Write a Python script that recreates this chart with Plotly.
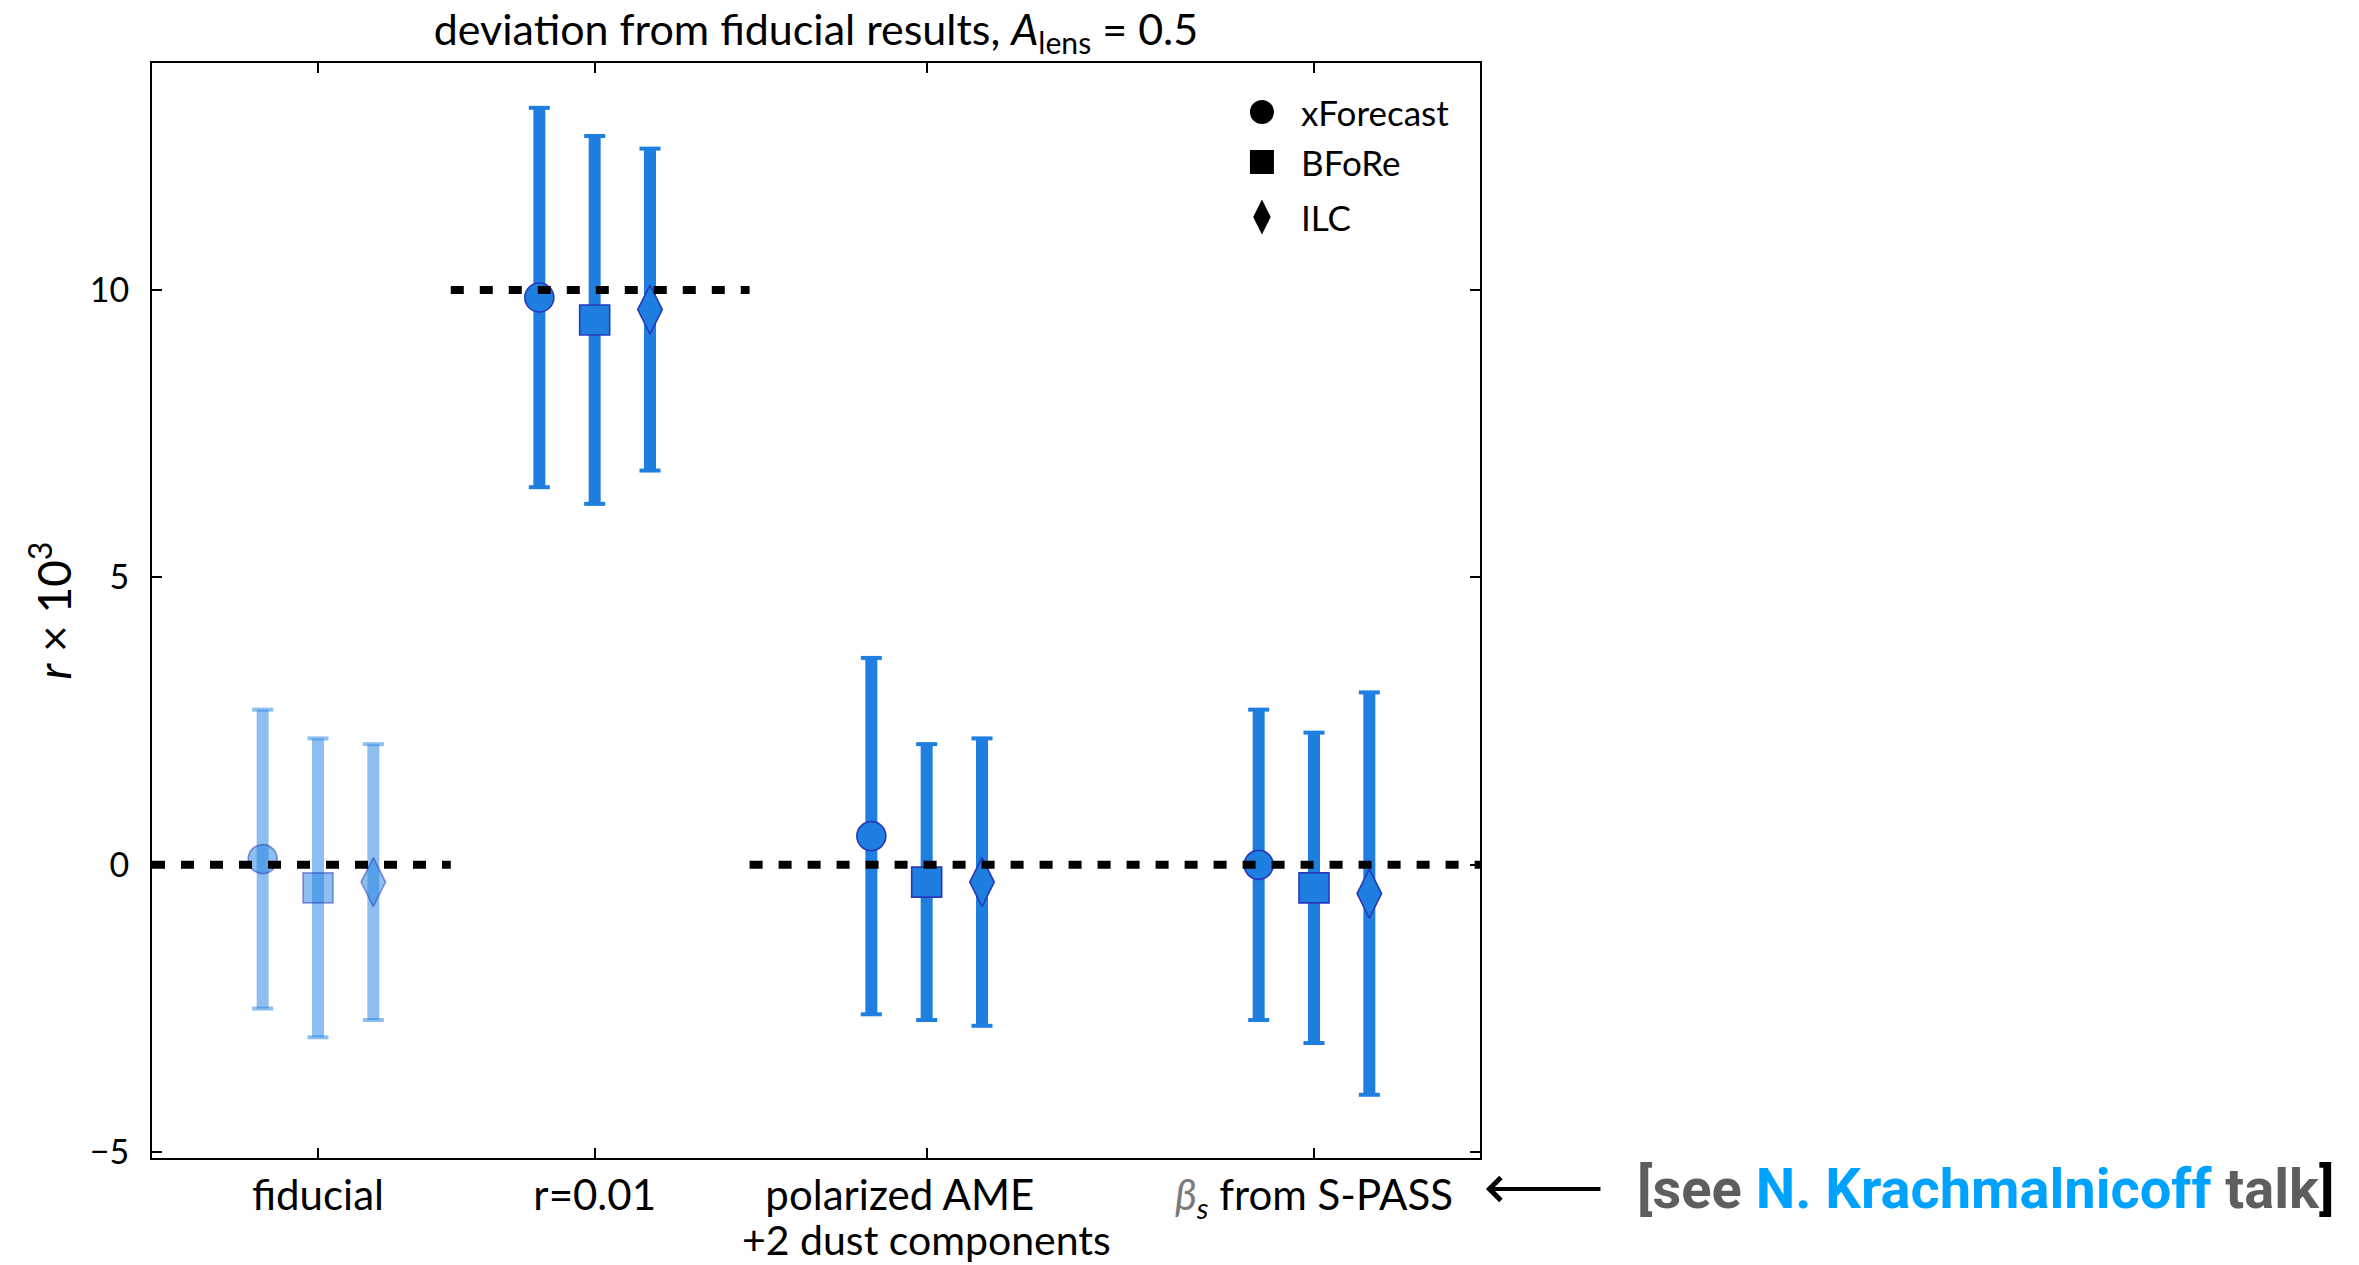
import plotly.graph_objects as go

# Scenario labels along the x axis (first line as tick label, optional second line below)
scenarios = [
    "fiducial",
    "r=0.01",
    "polarized AME\u00a0\u00a0\u00a0\u00a0\u00a0",
    "<span style='color:#7a7a7a'><i>β</i></span><sub><i>s</i></sub> from S-PASS",
]
scenario_sub = ["", "", "+2 dust components", ""]
scenario_pos = [1.5, 4.0, 7.0, 10.5]
scenario_alpha = [0.5, 1.0, 1.0, 1.0]

# Input r (x10^3) for each scenario and the x extent of each reference segment
r_input = [0, 10, 0, 0]
segment_edges = [0.0, 2.7, 5.4, 8.75, 12.0]

# Component-separation methods
methods = ["xForecast", "BFoRe", "ILC"]
method_offset = [-0.5, 0.0, 0.5]
method_symbol = ["circle", "square", "diamond-tall"]
method_size = [29, 30, 35]

# Recovered r x 10^3 and 1-sigma errors per method, per scenario
r_xforecast = [0.10, 9.87, 0.50, 0.00]
sig_xforecast = [2.6, 3.3, 3.1, 2.7]
r_bfore = [-0.40, 9.48, -0.30, -0.40]
sig_bfore = [2.6, 3.2, 2.4, 2.7]
r_ilc = [-0.30, 9.66, -0.30, -0.50]
sig_ilc = [2.4, 2.8, 2.5, 3.5]

y_ticks = [-5, 0, 5, 10]
y_ticktext = ["−5", "0", "5", "10"]

BLUE = (30, 127, 225)
EDGE = (38, 58, 185)
FONT = "Lato"


def rgba(c, a):
    return f"rgba({c[0]},{c[1]},{c[2]},{a})"


values = [r_xforecast, r_bfore, r_ilc]
sigmas = [sig_xforecast, sig_bfore, sig_ilc]

fig = go.Figure()

for m, name in enumerate(methods):
    for s in range(len(scenarios)):
        xv = scenario_pos[s] + method_offset[m]
        yv = values[m][s]
        ev = sigmas[m][s]
        a = scenario_alpha[s]
        # thick error bar with marker on top
        fig.add_trace(go.Scatter(
            x=[xv], y=[yv], mode="markers", showlegend=False, name=name,
            error_y=dict(type="data", array=[ev], symmetric=True,
                         thickness=12, width=0, color=rgba(BLUE, a)),
            marker=dict(symbol=method_symbol[m], size=method_size[m],
                        color=rgba(BLUE, a),
                        line=dict(color=rgba(EDGE, a), width=1.6)),
        ))
        # thin caps at both ends of the error bar
        fig.add_trace(go.Scatter(
            x=[xv, xv], y=[yv + ev, yv - ev], mode="markers", showlegend=False,
            hoverinfo="skip",
            marker=dict(symbol="line-ew", size=15,
                        line=dict(color=rgba(BLUE, a), width=4)),
        ))

# Dashed reference lines at the input r, merging neighbouring segments at equal level
runs = []
for s, rv in enumerate(r_input):
    lo, hi = segment_edges[s], segment_edges[s + 1]
    if runs and runs[-1][2] == rv:
        runs[-1][1] = hi
    else:
        runs.append([lo, hi, rv])
for lo, hi, rv in runs:
    fig.add_trace(go.Scatter(
        x=[lo, hi], y=[rv, rv], mode="lines", showlegend=False, hoverinfo="skip",
        line=dict(color="black", width=8, dash="13px,16px"),
    ))

# Legend drawn on an overlay axis with large black symbols
legend_x = 0.8358
legend_y = [0.9553, 0.9096, 0.8594]
legend_size = [24, 24, 25]
for m, name in enumerate(methods):
    fig.add_trace(go.Scatter(
        x=[legend_x], y=[legend_y[m]], xaxis="x2", yaxis="y2", mode="markers",
        showlegend=False, hoverinfo="skip",
        marker=dict(symbol=method_symbol[m], size=legend_size[m], color="black",
                    line=dict(width=0)),
    ))

annotations = []
for m, name in enumerate(methods):
    annotations.append(dict(
        xref="paper", yref="paper", x=legend_x + 0.028, y=legend_y[m],
        xanchor="left", yanchor="middle", text=name, showarrow=False,
        font=dict(family=FONT, size=35, color="black"),
    ))

# second line of the multi-line scenario labels
for s, sub in enumerate(scenario_sub):
    if sub:
        annotations.append(dict(
            xref="x", yref="paper", x=scenario_pos[s], y=-0.0745,
            xanchor="center", yanchor="middle", text=sub, showarrow=False,
            borderpad=0,
            font=dict(family=FONT, size=41, color="black"),
        ))

# y-axis title
annotations.append(dict(
    xref="paper", yref="paper", x=-0.0768, y=0.5, xanchor="center", yanchor="middle",
    text="<i>r</i> × 10<sup>3</sup>", textangle=-90, showarrow=False,
    font=dict(family=FONT, size=46, color="black"),
))

# Pointer to the talk reference
annotations.append(dict(
    xref="paper", yref="paper", x=1.0045, y=-0.0283, ax=116, ay=0,
    text="", showarrow=True, arrowhead=4, arrowsize=1.1, arrowwidth=4,
    arrowcolor="black", standoff=0,
))
annotations.append(dict(
    xref="paper", yref="paper", x=1.1167, y=-0.0283, xanchor="left", yanchor="middle",
    text=("<span style='color:#5e5e5e'>[see </span>"
          "<span style='color:#00a2ff'>N. Krachmalnicoff</span>"
          "<span style='color:#5e5e5e'> talk</span>"
          "<span style='color:#000000'>]</span>"),
    showarrow=False,
    font=dict(family="Roboto", size=56, weight="bold"),
))

fig.update_layout(
    width=2359, height=1265,
    margin=dict(l=152, r=879, t=63, b=107),
    paper_bgcolor="white", plot_bgcolor="white",
    font=dict(family=FONT, color="black"),
    title=dict(
        text="deviation from fiducial results, <i>A</i><sub>lens</sub> = 0.5",
        x=0.3459, xanchor="center", y=1 - 30 / 1265, yanchor="middle",
        font=dict(family=FONT, size=43, color="black"),
    ),
    xaxis=dict(
        range=[0, 12], tickvals=scenario_pos, ticktext=scenarios,
        ticks="inside", ticklen=10, tickwidth=1.5, tickcolor="black",
        showline=True, linecolor="black", linewidth=2, mirror="ticks",
        showgrid=False, zeroline=False, automargin=False,
        tickfont=dict(family=FONT, size=42, color="black"),
        ticklabelstandoff=0,
    ),
    yaxis=dict(
        range=[-5.1, 13.95], tickvals=y_ticks, ticktext=y_ticktext,
        ticks="inside", ticklen=10, tickwidth=1.5, tickcolor="black",
        showline=True, linecolor="black", linewidth=2, mirror="ticks",
        showgrid=False, zeroline=False, automargin=False,
        tickfont=dict(family=FONT, size=34, color="black"),
        ticklabelstandoff=14,
    ),
    xaxis2=dict(range=[0, 1], overlaying="x", visible=False, fixedrange=True,
                automargin=False),
    yaxis2=dict(range=[0, 1], overlaying="y", visible=False, fixedrange=True,
                automargin=False),
    annotations=annotations,
    showlegend=False,
)

fig.write_html("out.html")
